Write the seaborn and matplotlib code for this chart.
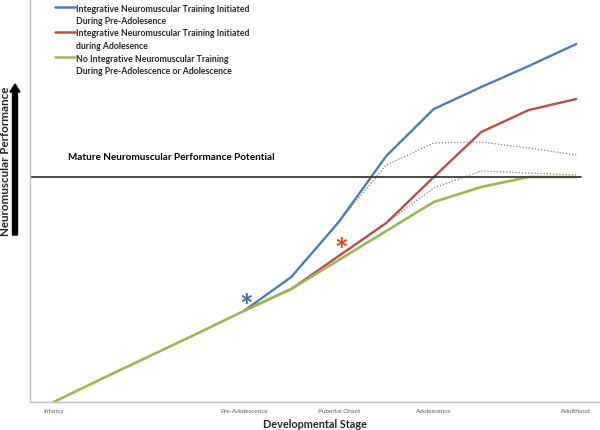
import matplotlib
matplotlib.use("Agg")
import matplotlib.pyplot as plt
from matplotlib.lines import Line2D
import seaborn as sns
import pandas as pd

stages = ["Infancy", "", "", "", "Pre-Adolescence", "", "Pubertal Onset", "",
          "Adolescence", "", "", "Adulthood"]
idx = list(range(len(stages)))

green_vals = [0, 23, 45.5, 68, 91, 113, 142, 171, 200, 215, 225, 225]
red_vals = [None, None, None, None, 91, 113, 146, 179, 225, 270, 292, 303]
blue_vals = [None, None, None, None, 91, 125, 180, 246, 293, 315, 336, 358]
upper_dotted = [None, None, None, None, None, None, 180, 237, 259, 260, 254, 247]
lower_dotted = [None, None, None, None, None, None, None, 179, 214, 231, 229, 227]
mature_level = 225

labels = ["Integrative Neuromuscular Training Initiated\nDuring Pre-Adolesence",
          "Integrative Neuromuscular Training Initiated\nduring Adolesence",
          "No Integrative Neuromuscular Training\nDuring Pre-Adolescence or Adolescence"]
colors = ["#4A7EBB", "#BE4B48", "#98B954"]

sns.set_style("white")
plt.rcParams["font.family"] = ["Lato", "DejaVu Sans"]

fig = plt.figure(figsize=(6, 4.31), dpi=100)
ax = fig.add_axes([30 / 600, 28 / 431, 570 / 600, 403 / 431])

def df_of(vals):
    d = pd.DataFrame({"x": idx, "y": vals}).dropna()
    return d

sns.lineplot(data=df_of(upper_dotted), x="x", y="y", ax=ax, color="#7F7F7F",
             linestyle=(0, (1, 1.5)), linewidth=0.9)
sns.lineplot(data=df_of(lower_dotted), x="x", y="y", ax=ax, color="#7F7F7F",
             linestyle=(0, (1, 1.5)), linewidth=0.9)
sns.lineplot(data=df_of(blue_vals), x="x", y="y", ax=ax, color=colors[0], linewidth=1.7)
sns.lineplot(data=df_of(red_vals), x="x", y="y", ax=ax, color=colors[1], linewidth=1.7)
sns.lineplot(data=df_of(green_vals), x="x", y="y", ax=ax, color=colors[2], linewidth=1.9)

ax.axhline(mature_level, xmin=0, xmax=(581 - 30) / 570, color="#3A3A3A", linewidth=1.3)
ax.text(0.3, mature_level + 20, "Mature Neuromuscular Performance Potential",
        fontsize=7.2, fontweight="bold", color="black", va="center", ha="left")

# asterisks
ax.text(4.06, 94, "*", color="#3D6EA8", fontsize=23, fontweight="bold",
        ha="center", va="center")
ax.text(6.05, 151, "*", color="#E0451B", fontsize=23, fontweight="bold",
        ha="center", va="center")

ax.set_xlim(-0.5, 11.5)
ax.set_ylim(0, 403)
ax.set_xticks(idx)
ax.set_xticklabels(stages, fontsize=4.6, color="#595959")
ax.tick_params(axis="x", length=0, pad=4)
ax.set_yticks([])
ax.set_xlabel("Developmental Stage", fontsize=7.8, fontweight="bold", labelpad=4)
ax.set_ylabel("")
for s in ["top", "right"]:
    ax.spines[s].set_visible(False)
for s in ["left", "bottom"]:
    ax.spines[s].set_color("#C0C0C0")
    ax.spines[s].set_linewidth(1.0)

# y label with arrow
fig.text(6 / 600, 1 - 161 / 431, "Neuromuscular Performance", rotation=90,
         fontsize=8.4, fontweight="bold", ha="center", va="center")
fig.patches.append(matplotlib.patches.FancyArrow(
    15 / 600, 1 - 236 / 431, 0, (236 - 85) / 431, width=5 / 600,
    head_width=10 / 600, head_length=8 / 431, length_includes_head=True,
    color="black", transform=fig.transFigure, figure=fig))

# legend drawn manually
rows_y = [8, 33, 58]
for c, lab, yy in zip(colors, labels, rows_y):
    fig.add_artist(Line2D([55 / 600, 75 / 600], [1 - yy / 431, 1 - yy / 431],
                          color=c, linewidth=1.8, transform=fig.transFigure))
    fig.text(76 / 600, 1 - (yy - 3.5) / 431, lab, fontsize=6.3, fontweight="bold",
             ha="left", va="top", linespacing=1.45)

fig.savefig("out.png", dpi=100)
